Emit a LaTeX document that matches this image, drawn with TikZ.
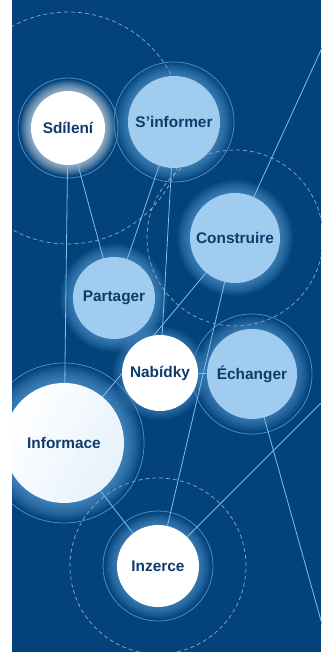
\documentclass[tikz,border=0pt]{standalone}
\usepackage{fontspec}
\setmainfont{Liberation Sans}
\definecolor{bgblue}{HTML}{03427A}
\definecolor{lightc}{HTML}{9FCCEF}
\definecolor{txtc}{HTML}{0E3B6B}
\definecolor{linec}{HTML}{7CC0EC}
\definecolor{ringc}{HTML}{4C8DC6}
\definecolor{dashc}{HTML}{8EA9CB}
\definecolor{glowc}{HTML}{5FA3DC}
\definecolor{infoedge}{HTML}{E6F2FC}
\pgfdeclarelayer{bglayer}
\pgfdeclarelayer{glowlayer}
\pgfdeclarelayer{linelayer}
\pgfdeclarelayer{frontlayer}
\pgfsetlayers{bglayer,glowlayer,linelayer,main,frontlayer}
\newcommand\myglow[5]{%
  \foreach \k in {1,...,#4} {\fill[#3, opacity=#5] (#1) circle[radius={(#2+\k)*1pt}];}}
\tikzset{
  bubble/.style={circle, inner sep=0pt, draw=none, text=txtc,
    font=\fontsize{15.4}{17}\selectfont\bfseries},
  whitebubble/.style={bubble, fill=white},
  bluebubble/.style={bubble, fill=lightc},
  link/.style={draw=linec, line width=0.8pt},
  ring/.style={draw=ringc, line width=0.8pt},
  dashring/.style={draw=dashc, line width=0.7pt, dash pattern=on 4pt off 3pt},
}
\begin{document}
\begin{tikzpicture}[x=1pt,y=-1pt]
\useasboundingbox (0,0) rectangle (321,652);
% nodes
\node[whitebubble, minimum size=74pt] (s) at (68,128) {Sdílení};
\node[bluebubble, minimum size=92pt] (f) at (174,122) {S’informer};
\node[bluebubble, minimum size=90pt] (c) at (235,238) {Construire};
\node[bluebubble, minimum size=82pt] (p) at (114,298) {Partager};
\node[whitebubble, minimum size=76pt] (n) at (160,373) {Nabídky};
\node[bluebubble, minimum size=90pt] (e) at (252,374) {Échanger};
\node[bubble, minimum size=120pt, left color=white, right color=infoedge, shading angle=60] (i) at (64,443) {Informace};
\node[whitebubble, minimum size=82pt] (z) at (158,566) {Inzerce};
\coordinate (ca) at (332,26);
\coordinate (ea) at (332,660);
\coordinate (za) at (332,392);
\begin{pgfonlayer}{bglayer}
  \fill[bgblue] (12,0) rectangle (321,652);
\end{pgfonlayer}
\begin{pgfonlayer}{glowlayer}
  \myglow{s}{37}{white}{11}{0.07}
  \myglow{f}{46}{glowc}{13}{0.065}
  \myglow{c}{45}{glowc}{13}{0.065}
  \myglow{p}{41}{glowc}{13}{0.065}
  \myglow{n}{38}{glowc}{9}{0.06}
  \myglow{e}{45}{glowc}{13}{0.06}
  \myglow{i}{60}{glowc}{18}{0.06}
  \myglow{z}{41}{glowc}{12}{0.065}
\end{pgfonlayer}
\begin{pgfonlayer}{linelayer}
  \draw[dashring] (s) circle[radius=116pt];
  \draw[dashring] (c) circle[radius=88pt];
  \draw[dashring] (z) circle[radius=88pt];
  \draw[ring] (s) circle[radius=50pt];
  \draw[ring] (f) circle[radius=60pt];
  \draw[ring] (e) circle[radius=60pt];
  \draw[ring] (i) circle[radius=80pt];
  \draw[ring] (z) circle[radius=55pt];
  \draw[link] (s.center) -- (i.center);
  \draw[link] (s.center) -- (p.center);
  \draw[link] (f.center) -- (p.center);
  \draw[link] (f.center) -- (n.center);
  \draw[link] (c.center) -- (ca);
  \draw[link] (c.center) -- (i.center);
  \draw[link] (c.center) -- (z.center);
  \draw[link] (n.center) -- (e.center);
  \draw[link] (e.center) -- (ea);
  \draw[link] (z.center) -- (za);
  \draw[link] (i.center) -- (z.center);
\end{pgfonlayer}
\begin{pgfonlayer}{frontlayer}
  \fill[white] (0,0) rectangle (12,652);
\end{pgfonlayer}
\end{tikzpicture}
\end{document}
